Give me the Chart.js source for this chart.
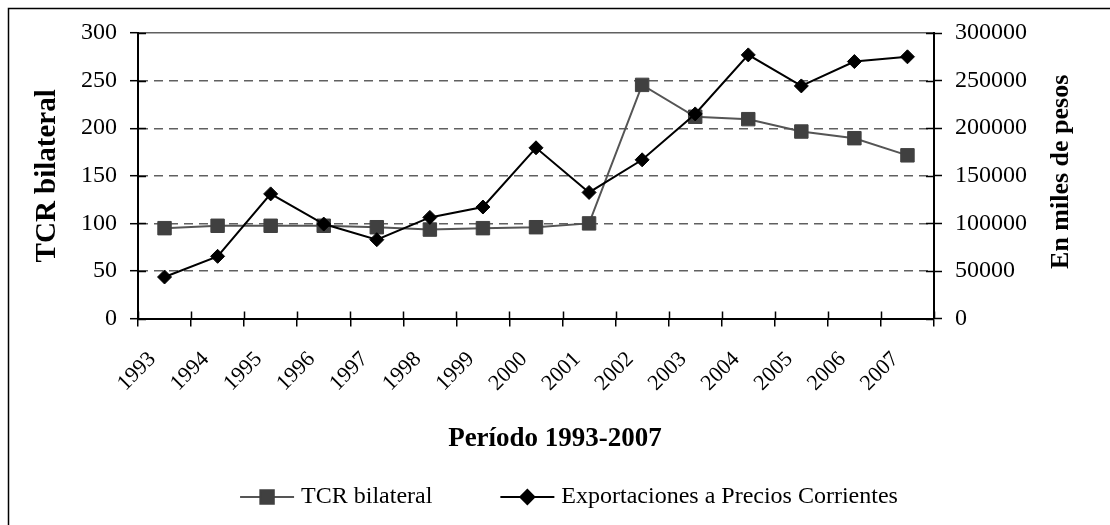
<!DOCTYPE html>
<html>
<head>
<meta charset="utf-8">
<script src="https://cdn.jsdelivr.net/npm/chart.js@4.4.0/dist/chart.umd.min.js"></script>
<style>
  html, body { margin: 0; padding: 0; background: #fff; }
  canvas { display: block; }
</style>
</head>
<body>
<canvas id="chart" width="1110" height="525"></canvas>
<script>
const years = ['1993', '1994', '1995', '1996', '1997', '1998', '1999', '2000',
               '2001', '2002', '2003', '2004', '2005', '2006', '2007']
const tcrBilateral = [95, 97.5, 97.5, 97.5, 96, 93.5, 95, 96, 100, 245.5, 212, 209.5, 196.5, 189.5, 171.5]
const exportaciones = [43700, 65400, 131000, 99300, 82900, 106300, 117200, 179400,
                       132500, 166800, 215000, 277000, 244400, 270000, 275000]
const leftMax = 300, leftStep = 50
const rightMax = 300000, rightStep = 50000

const serif = "'Liberation Serif', 'Times New Roman', serif"
const grayLine = '#555555'
const grayMark = '#404040'

// recuadro exterior, marcas que cruzan los ejes, titulo derecho y leyenda
const extras = {
  id: 'extras',
  beforeDraw(chart){
    const c = chart.ctx
    c.save()
    c.strokeStyle = '#000'
    c.lineWidth = 1.5
    c.strokeRect(8.5, 8.5, chart.width + 20, chart.height + 20)
    c.restore()
  },
  beforeDatasetsDraw(chart){
    const c = chart.ctx
    const {left, right, bottom} = chart.chartArea
    const xs = chart.scales.x, yl = chart.scales.y, yr = chart.scales.y2
    c.save()
    c.strokeStyle = '#000'
    c.lineWidth = 1.5
    c.beginPath()
    for (let i = 0; i <= years.length; i++){
      const px = Math.round(xs.getPixelForValue(i - 0.5)) + 0.5
      c.moveTo(px, bottom); c.lineTo(px, bottom - 7)
    }
    yl.ticks.forEach(t => {
      const py = Math.round(yl.getPixelForValue(t.value)) + 0.5
      c.moveTo(left, py); c.lineTo(left + 8, py)
    })
    yr.ticks.forEach(t => {
      const py = Math.round(yr.getPixelForValue(t.value)) + 0.5
      c.moveTo(right, py); c.lineTo(right - 8, py)
    })
    c.stroke()
    c.restore()
  },
  afterDraw(chart){
    const c = chart.ctx
    const {top, bottom, right} = chart.chartArea
    c.save()
    c.fillStyle = '#000'
    c.font = 'bold 26px ' + serif
    c.translate(right + 127, (top + bottom) / 2 - 4)
    c.rotate(-Math.PI / 2)
    c.textAlign = 'center'
    c.textBaseline = 'middle'
    c.fillText('En miles de pesos', 0, 0)
    c.restore()

    // leyenda con linea y marcador, como en la hoja de calculo
    const items = chart.data.datasets.slice().sort((a, b) => a.legendIndex - b.legendIndex)
    c.save()
    c.font = '24px ' + serif
    const markW = 54, gap = 7, between = 68
    const widths = items.map(d => c.measureText(d.label).width)
    const total = items.length * (markW + gap) + widths.reduce((a, b) => a + b, 0) + between * (items.length - 1)
    let x = 569 - total / 2
    const y = 497
    items.forEach((d, i) => {
      c.strokeStyle = d.borderColor
      c.lineWidth = 2
      c.beginPath(); c.moveTo(x, y); c.lineTo(x + markW, y); c.stroke()
      c.fillStyle = d.pointBackgroundColor
      c.strokeStyle = d.pointBorderColor
      Chart.helpers.drawPoint(c, {pointStyle: d.pointStyle, radius: d.pointRadius, borderWidth: 1}, x + markW / 2, y)
      c.fillStyle = '#000'
      c.textAlign = 'left'
      c.textBaseline = 'middle'
      c.fillText(d.label, x + markW + gap, y)
      x += markW + gap + widths[i] + between
    })
    c.restore()
  }
}

new Chart(document.getElementById('chart'), {
  type: 'line',
  data: {
    labels: years,
    datasets: [
      {
        label: 'Exportaciones a Precios Corrientes',
        data: exportaciones,
        yAxisID: 'y2',
        legendIndex: 1,
        order: 0,
        borderColor: '#000',
        borderWidth: 2,
        pointStyle: 'rectRot',
        pointRadius: 7,
        pointBackgroundColor: '#000',
        pointBorderColor: '#000',
        pointBorderWidth: 1,
        tension: 0,
      },
      {
        label: 'TCR bilateral',
        data: tcrBilateral,
        yAxisID: 'y',
        legendIndex: 0,
        order: 1,
        borderColor: grayLine,
        borderWidth: 2,
        pointStyle: 'rect',
        pointRadius: 9.5,
        pointBackgroundColor: grayMark,
        pointBorderColor: grayMark,
        pointBorderWidth: 1,
        tension: 0,
      }
    ]
  },
  options: {
    responsive: false,
    animation: false,
    devicePixelRatio: 1,
    layout: { padding: { top: 33, left: 0, right: 0, bottom: 50 } },
    plugins: {
      legend: { display: false },
      tooltip: { enabled: false },
      title: {
        display: true, position: 'bottom', fullSize: true,
        text: 'Período 1993-2007', color: '#000',
        font: { family: serif, size: 27, weight: 'bold' },
        padding: { top: 4, bottom: 20 }
      }
    },
    scales: {
      x: {
        type: 'category',
        offset: true,
        grid: { offset: true, drawOnChartArea: false, color: '#000', tickLength: 8, lineWidth: 1.5 },
        border: { color: '#000', width: 2 },
        ticks: {
          autoSkip: false, minRotation: 45, maxRotation: 45, padding: 20, labelOffset: -12,
          color: '#000', font: { family: serif, size: 22 }
        },
        afterFit(s){ s.height = 100 }
      },
      y: {
        position: 'left',
        min: 0, max: leftMax,
        ticks: { stepSize: leftStep, padding: 13, color: '#000', font: { family: serif, size: 24 } },
        grid: {
          color: ctx => ctx.tick && ctx.tick.value === 0 ? 'rgba(0,0,0,0)' : '#606060',
          lineWidth: 1.4,
          tickColor: '#000', tickLength: 8, tickWidth: 1.5
        },
        border: {
          color: '#000', width: 2,
          dash: ctx => ctx.tick && ctx.tick.value === leftMax ? [] : [9, 6]
        },
        title: {
          display: true, text: 'TCR bilateral', color: '#000',
          font: { family: serif, size: 29, weight: 'bold' },
          padding: { top: 30, bottom: 0 }
        },
        afterFit(s){ s.width = 138 }
      },
      y2: {
        position: 'right',
        min: 0, max: rightMax,
        ticks: {
          stepSize: rightStep, padding: 13, color: '#000', font: { family: serif, size: 24 },
          callback: v => String(v)
        },
        grid: { drawOnChartArea: false, tickColor: '#000', tickLength: 8, tickWidth: 1.5 },
        border: { color: '#000', width: 2 },
        afterFit(s){ s.width = 176 }
      }
    }
  },
  plugins: [extras]
})
</script>
</body>
</html>
